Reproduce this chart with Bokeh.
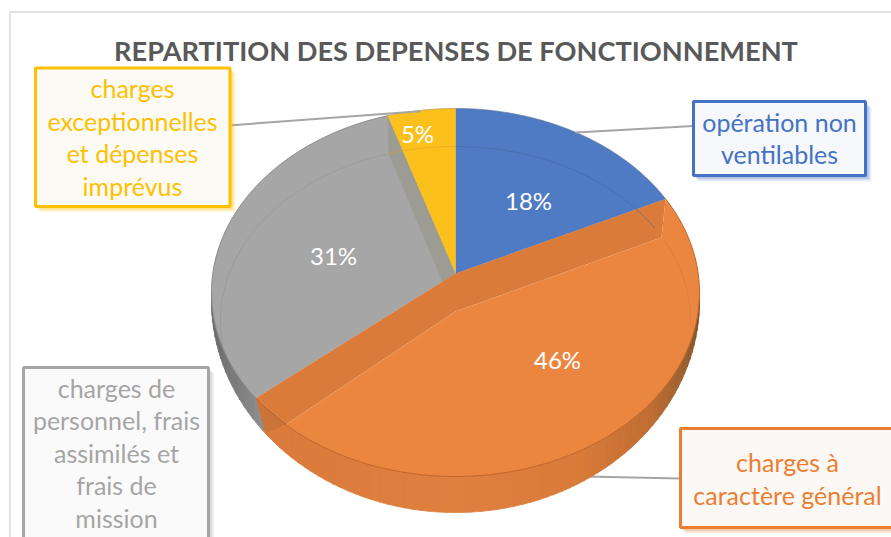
import numpy as np
from bokeh.plotting import figure
from bokeh.models import Range1d
from bokeh.core.properties import value
from bokeh.embed import file_html
from bokeh.resources import INLINE

title = "REPARTITION DES DEPENSES DE FONCTIONNEMENT"
categories = ["opération non ventilables", "charges à caractère général",
              "charges de personnel, frais assimilés et frais de mission",
              "charges exceptionnelles et dépenses imprévus"]
shares = [18, 46, 31, 5]
top_colors = ["#4F7AC4", "#EB8640", "#A6A6A6", "#FBC01C"]

FONT = "Lato"
CX, CY, RX, RY = 455.0, 292.0, 244.0, 184.0
LOW_CY, LOW_RY = 300.0, 212.0   # lower edge of the side wall
AX, AY = 455.0, 273.0   # apex of the wedges on screen
IN_CY, IN_RX, IN_RY = 320.0, 235.0, 174.0

p = figure(width=891, height=537, x_range=Range1d(0, 891), y_range=Range1d(537, 0),
           output_backend="svg", toolbar_location=None, min_border=0,
           background_fill_color="white", border_fill_color="white")
p.axis.visible = False
p.grid.visible = False
p.outline_line_color = None


def rim(theta):
    """point of the top ellipse reached from the apex in direction theta (radians)"""
    k = (CY - AY) / RY
    c = np.cos(theta); s = np.sin(theta)
    r = -k * c + np.sqrt((k * c) ** 2 - k ** 2 + 1)
    return CX + RX * s * r, CY - RY * (k + c * r)


def ell(t, cy=CY, rx=RX, ry=RY):
    return CX + rx * np.sin(t), cy - ry * np.cos(t)


def t_of(pt):
    return np.arctan2((pt[0] - CX) / RX, (CY - pt[1]) / RY) % (2 * np.pi)


def lerp_color(stops, v):
    xs = [s[0] for s in stops]
    rgb = [np.interp(v, xs, [int(s[1][i:i + 2], 16) for s in stops]) for i in (1, 3, 5)]
    return "#%02x%02x%02x" % tuple(int(round(c)) for c in rgb)


cum = np.cumsum([0] + shares) / sum(shares) * 2 * np.pi
A = rim(cum[1]); B = rim(cum[2]); D = rim(cum[3])

# chart frame
p.line([891, 9.5, 9.5], [11.5, 11.5, 537], line_color="#D9D9D9", line_width=1.5)

# leader line that runs behind the pie
p.line([680, 585], [478, 476], line_color="#A5A5A5", line_width=2)

# side wall
orange_stops = [(-1, "#D9793A"), (0, "#E0803F"), (.5, "#DA7B39"), (.8, "#BF6E33"), (.95, "#96602F"), (1, "#7F5028")]
gray_stops = [(-1, "#6A6A6A"), (-.8, "#8E8E8E")]
t_b = t_of(B)
t_wall = t_b - .065   # where the orange wall gives way to the grey one
wall_x, wall_y, wall_c = [], [], []
edges = np.linspace(np.pi / 2, 3 * np.pi / 2, 91)
for t0, t1 in zip(edges[:-1], edges[1:]):
    ts = np.linspace(t0, t1 + .004, 4)
    xt, yt = ell(ts)
    xl, yl = ell(ts, LOW_CY, RX, LOW_RY)
    wall_x.append(list(xt) + list(xl[::-1]))
    wall_y.append(list(yt) + list(yl[::-1]))
    u = np.sin((t0 + t1) / 2)
    wall_c.append(lerp_color(orange_stops, u) if (t0 + t1) / 2 < t_wall else lerp_color(gray_stops, u))
p.patches(wall_x, wall_y, fill_color=wall_c, line_color=wall_c, line_width=.8)

# wedges of the top face
for i in (0, 2, 3):
    th = np.linspace(cum[i], cum[i + 1], 80)
    xs, ys = rim(th)
    p.patch([AX] + list(xs), [AY] + list(ys), fill_color=top_colors[i], line_color=top_colors[i], line_width=.5)

# darker strip between the grey and yellow wedges
p.patch([D[0], AX, 442, 388], [D[1], AY, 281.5, 153], fill_color="#9C9C94", line_color=None)

# orange wedge: band and face
A2 = (661.0, 237.0); C2 = (455.0, 311.0); B2 = (287.0, 423.0)
th = np.linspace(cum[1], cum[2], 120)
xs, ys = rim(th)
p.patch([A[0], AX, B[0], B2[0], C2[0], A2[0]], [A[1], AY, B[1], B2[1], C2[1], A2[1]],
        fill_color="#DB7B3A", line_color=None)
p.patch(list(xs) + [B2[0], C2[0], A2[0]], list(ys) + [B2[1], C2[1], A2[1]],
        fill_color=top_colors[1], line_color=None)
# corner where the band meets the wall
tip = ell(t_wall, LOW_CY, RX, LOW_RY)
p.patch([B[0], B2[0], tip[0]], [B[1], B2[1], tip[1]], fill_color="#CB743A", line_color=None)

# thin rims
for c, t0, t1 in [("#47699F", 0, 58), ("#969696", 296, 343), ("#939393", 262, 296), ("#D9A520", 343, 360), ("#D07A3A", 63, 92)]:
    ts = np.radians(np.linspace(t0, t1, 40))
    xi, yi = ell(ts, IN_CY, IN_RX, IN_RY)
    p.line(xi, yi, line_color=c, line_width=.8, line_alpha=.75)
ts = np.linspace(t_of(A), t_b, 120)
xi, yi = ell(ts)
p.line(xi, yi, line_color="#C0652A", line_width=1)
ts = np.linspace(t_b, t_of(D), 120)
xi, yi = ell(ts)
p.line(xi, yi, line_color="#858585", line_width=.8)
xi, yi = rim(np.linspace(cum[3], 2 * np.pi + cum[1], 100))
p.line(xi, yi, line_color="#7A7A7A", line_width=.6, line_alpha=.6)

# leader lines over the pie
for lx, ly in [([231, 420], [124.7, 110.7]), ([693, 575], [125.5, 132])]:
    p.line(lx, ly, line_color="#A5A5A5", line_width=2)

# percentages
label_pos = [(528, 200), (557, 359), (333, 255), (417, 133)]
p.text([q[0] for q in label_pos], [q[1] for q in label_pos], text=[f"{v}%" for v in shares],
       text_color="white", text_font=value(FONT), text_font_size="24px",
       text_align="center", text_baseline="middle")

# title
p.text([455.5], [50], text=[title], text_color="#595959", text_font=value(FONT),
       text_font_style="bold", text_font_size="27.2px", text_align="center", text_baseline="middle")

# call-outs
boxes = [
    (693, 101, 865, 175, "#4472C4", "#F6F8FC", ["opération non", "ventilables"], 779, [121, 153]),
    (680, 428, 900, 527, "#ED7D31", "#FCF8F5", ["charges à", "caractère général"], 787, [461, 494]),
    (23, 367, 208, 545, "#A5A5A5", "#FAFAFA", ["charges de", "personnel, frais", "assimilés et", "frais de", "mission"], 116, [387, 419, 452, 484, 517]),
    (35, 67.5, 229.5, 206, "#FFC000", "#FBFAF5", ["charges", "exceptionnelles", "et dépenses", "imprévus"], 132, [87, 120, 152, 185]),
]
for x0, y0, x1, y1, col, fill, lines, tx, tys in boxes:
    for off, a in [(6, .08), (5, .10), (4, .14), (3, .18)]:
        p.quad(left=x0 + off - 1, right=x1 + off, top=y0 + off, bottom=y1 + off,
               fill_color=col, fill_alpha=a, line_color=None)
    p.quad(left=x0, right=x1, top=y0, bottom=y1, fill_color=fill, line_color=col, line_width=3)
    p.text([tx] * len(lines), tys, text=lines, text_color=col, text_font=value(FONT),
           text_font_size="25px", text_align="center", text_baseline="middle")

open("out.html", "w").write(file_html(p, INLINE))
